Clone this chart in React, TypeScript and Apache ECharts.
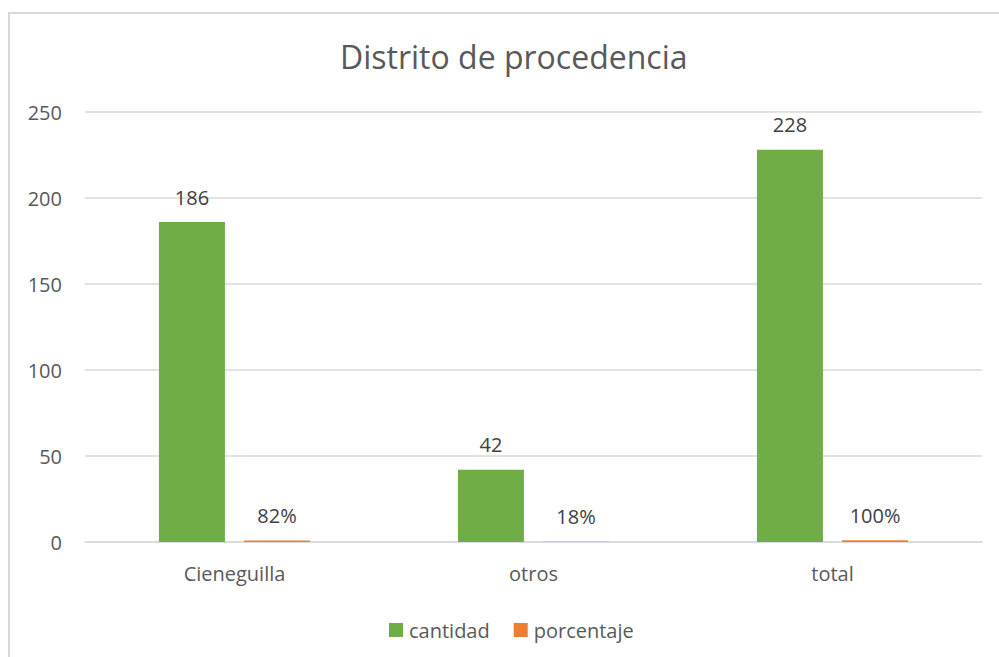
import React, { useEffect, useRef } from "react";
import * as echarts from "echarts";

const categories = ["Cieneguilla", "otros", "total"];
const cantidad = [186, 42, 228];
const porcentaje = [0.82, 0.18, 1.0];
const yTicks = { min: 0, max: 250, interval: 50 };

const FONT = "'Open Sans', 'Noto Sans', sans-serif";

export default function App() {
  const ref = useRef<HTMLDivElement>(null);
  useEffect(() => {
    if (!ref.current) return;
    const chart = echarts.init(ref.current, undefined, { renderer: "svg" });
    chart.setOption({
      animation: false,
      backgroundColor: "#ffffff",
      textStyle: { fontFamily: FONT },
      title: {
        text: "Distrito de procedencia",
        left: 335,
        top: 35,
        textStyle: { fontFamily: FONT, fontSize: 32, fontWeight: "normal", color: "#595959" },
      },
      graphic: [
        {
          type: "rect",
          shape: { x: 9, y: 13, width: 1000, height: 700 },
          style: { fill: "none", stroke: "#d9d9d9", lineWidth: 2 },
          silent: true,
        },
      ],
      legend: {
        left: 389,
        top: 620,
        padding: 0,
        itemWidth: 14,
        itemHeight: 14,
        itemGap: 24,
        icon: "rect",
        textStyle: { fontFamily: FONT, fontSize: 20, color: "#595959", padding: [0, 0, 0, 1] },
        data: ["cantidad", "porcentaje"],
      },
      grid: { left: 85, right: 17, top: 112, bottom: 115, containLabel: false },
      xAxis: {
        type: "category",
        data: categories,
        axisTick: { show: false },
        axisLine: { lineStyle: { color: "#d9d9d9", width: 1.5 } },
        axisLabel: { fontFamily: FONT, fontSize: 20, color: "#595959", margin: 21 },
      },
      yAxis: {
        type: "value",
        min: yTicks.min,
        max: yTicks.max,
        interval: yTicks.interval,
        axisLine: { show: false },
        axisTick: { show: false },
        splitLine: { lineStyle: { color: "#d9d9d9", width: 1.5 } },
        axisLabel: { fontFamily: FONT, fontSize: 20, color: "#595959", margin: 23 },
      },
      series: [
        {
          name: "cantidad",
          type: "bar",
          data: cantidad,
          barWidth: 66,
          barGap: "29%",
          itemStyle: { color: "#70AD47" },
          label: {
            show: true,
            position: "top",
            distance: 15,
            fontFamily: FONT,
            fontSize: 20,
            color: "#404040",
          },
        },
        {
          name: "porcentaje",
          type: "bar",
          data: porcentaje,
          barWidth: 66,
          itemStyle: { color: "#ED7D31" },
          label: {
            show: true,
            position: "top",
            distance: 15,
            fontFamily: FONT,
            fontSize: 20,
            color: "#404040",
            formatter: (p: any) => `${Math.round(p.value * 100)}%`,
          },
        },
      ],
    });
    return () => chart.dispose();
  }, []);
  return (
    <div
      ref={ref}
      style={{ position: "absolute", left: 0, top: 0, width: 999, height: 657 }}
    />
  );
}
